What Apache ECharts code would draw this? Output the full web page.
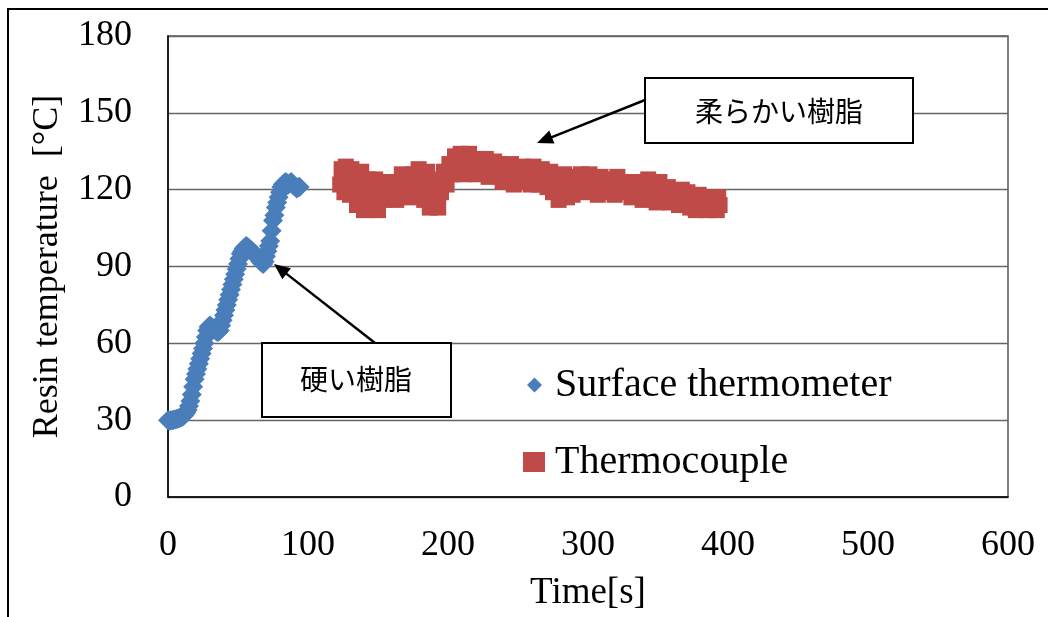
<!DOCTYPE html>
<html>
<head>
<meta charset="utf-8">
<script src="https://cdn.jsdelivr.net/npm/echarts@6/dist/echarts.min.js"></script>
<style>html,body{margin:0;padding:0;background:#fff;}#c{width:1048px;height:617px;}</style>
</head>
<body>
<div id="c"></div>
<script>
// ---- data ----
const xTicks = [0, 100, 200, 300, 400, 500, 600];
const yTicks = [0, 30, 60, 90, 120, 150, 180];
const seriesNames = ['Surface thermometer', 'Thermocouple'];

const blueTime = [0,1,2,3,4,5,6,7,8,9,10,11,12,13,14,15,16,17,18,19,20,21,22,23,24,25,26,27,28,29,30,31,32,33,34,35,36,37,38,39,40,41,42,43,44,45,46,47,48,49,50,51,52,53,54,55,56,57,58,59,60,61,62,63,64,65,66,67,68,69,70,71,72,73,74,75,76,77,78,79,80,81,82,83,84,85,86,87,88,89,90,91,92,93,94];
const blueTemp = [30,29.8,30,30,30.2,30.3,30.5,30.6,30.8,31,31.2,31.6,32.2,33,34,35.5,37.5,40,43,46,48,50,52,54,56,58,60,62.5,65,66.5,67,66.5,66,65.5,65,64.5,64.5,65,67,69,71,73,75,77,79,81,83,85,87,89,91,93,95,96,97,97.5,98,97.5,97,96.5,96,95.5,95,94,93.5,93,92,91.5,91,92,94,96,98,100,104,108,110,113,115,117,119,121,122,122.5,123,122.5,122,122.5,123,122,121.5,121,120.5,121,121];

const redTime = [123,124,125,126,127,128,130,131,133,135,136,138,140,141,143,145,146,148,150,151,153,155,157,159,161,163,165,167,169,171,173,175,177,179,181,183,185,187,189,191,193,195,197,199,201,203,205,207,209,211,213,215,217,219,221,223,225,227,229,231,233,235,237,239,241,243,245,247,249,251,253,255,257,259,261,263,265,267,269,271,273,275,277,279,281,283,285,287,289,291,293,295,297,299,301,303,305,307,309,311,313,315,317,319,321,323,325,327,329,331,333,335,337,339,341,343,345,347,349,351,353,355,357,359,361,363,365,367,369,371,373,375,377,379,381,383,385,387,389,391,392,393,394];
const redTemp = [122,128,125,119,129,123,118,128,122,114,120,127,112,118,124,113,120,124,112,118,123,116,122,117,123,116,121,126,118,124,117,126,120,128,122,116,127,113,119,124,113,119,127,122,130,126,133,128,134,126,131,134,128,132,126,131,128,132,125,129,131,126,130,123,128,125,130,122,127,124,129,123,127,122,129,125,122,128,124,121,127,119,125,116,121,126,117,123,118,125,120,126,119,123,126,120,124,118,125,121,119,124,122,118,125,120,123,119,123,117,121,118,123,116,121,124,117,120,115,123,118,116,121,115,119,117,114,120,116,119,113,117,112,118,114,116,112,117,113,116,112,117,114];

// ---- chart ----
const serif = "'Liberation Serif','Times New Roman',serif";
const cjk = "'Noto Sans CJK JP','Noto Sans CJK SC',sans-serif";
const blueData = blueTime.map((t, i) => [t, blueTemp[i]]);
const redData = redTime.map((t, i) => [t, redTemp[i]]);

function arrow(x1, y1, x2, y2) {
  const dx = x2 - x1, dy = y2 - y1, L = Math.hypot(dx, dy);
  const ux = dx / L, uy = dy / L;
  const hl = 16, hw = 7;
  const bx = x2 - ux * hl, by = y2 - uy * hl;
  return [
    { type: 'line', shape: { x1: x1, y1: y1, x2: bx + ux * 2, y2: by + uy * 2 }, style: { stroke: '#000', lineWidth: 2.5 }, z: 100 },
    { type: 'polygon', shape: { points: [[x2, y2], [bx - uy * hw, by + ux * hw], [bx + uy * hw, by - ux * hw]] }, style: { fill: '#000' }, z: 100 }
  ];
}

const chart = echarts.init(document.getElementById('c'), null, { renderer: 'canvas' });
chart.setOption({
  animation: false,
  backgroundColor: '#fff',
  grid: { left: 168, right: 40, top: 36, bottom: 120, show: true, borderColor: '#555', borderWidth: 1.5, backgroundColor: 'transparent' },
  xAxis: {
    type: 'value', min: xTicks[0], max: xTicks[xTicks.length - 1], interval: 100,
    name: 'Time[s]', nameLocation: 'middle', nameGap: 78,
    nameTextStyle: { fontFamily: serif, fontSize: 37, color: '#000' },
    axisLine: { show: true, lineStyle: { color: '#000', width: 1.5 } },
    axisTick: { show: false },
    splitLine: { show: false },
    axisLabel: { fontFamily: serif, fontSize: 36, color: '#000', margin: 31 }
  },
  yAxis: {
    type: 'value', min: yTicks[0], max: yTicks[yTicks.length - 1], interval: 30,
    name: 'Resin temperature  [°C]', nameLocation: 'middle', nameGap: 102,
    nameTextStyle: { fontFamily: serif, fontSize: 36, color: '#000' },
    axisLine: { show: true, lineStyle: { color: '#000', width: 1.5 } },
    axisTick: { show: false },
    splitLine: { show: true, lineStyle: { color: '#666', width: 1.3 } },
    axisLabel: { fontFamily: serif, fontSize: 36, color: '#000', margin: 36 }
  },
  legend: [
    {
      data: [seriesNames[0]], left: 527, top: 365, orient: 'vertical', padding: 0,
      itemWidth: 15, itemHeight: 15, itemGap: 0,
      icon: 'diamond',
      textStyle: { fontFamily: serif, fontSize: 40, color: '#000', padding: [0, 0, 0, 8] }
    },
    {
      data: [seriesNames[1]], left: 523, top: 442, orient: 'vertical', padding: 0,
      itemWidth: 22, itemHeight: 20, itemGap: 0,
      icon: 'rect',
      textStyle: { fontFamily: serif, fontSize: 40, color: '#000', padding: [0, 0, 0, 5] }
    }
  ],
  series: [
    {
      name: seriesNames[0], type: 'scatter', data: blueData,
      symbol: 'diamond', symbolSize: 20,
      itemStyle: { color: '#4a7ebb', opacity: 1 }
    },
    {
      name: seriesNames[1], type: 'scatter', data: redData,
      symbol: 'rect', symbolSize: 16,
      itemStyle: { color: '#be4b48', opacity: 1 }
    }
  ],
  graphic: [
    { type: 'rect', shape: { x: 8, y: 9, width: 1200, height: 800 }, style: { fill: 'none', stroke: '#000', lineWidth: 2 }, z: 100 },
    { type: 'rect', shape: { x: 645, y: 78, width: 268, height: 65 }, style: { fill: '#fff', stroke: '#000', lineWidth: 2 }, z: 100 },
    { type: 'text', x: 779, y: 111, style: { text: '柔らかい樹脂', font: '28px ' + cjk, fill: '#000', align: 'center', verticalAlign: 'middle' }, z: 101 },
    { type: 'rect', shape: { x: 262, y: 343, width: 189, height: 74 }, style: { fill: '#fff', stroke: '#000', lineWidth: 2 }, z: 100 },
    { type: 'text', x: 356, y: 379, style: { text: '硬い樹脂', font: '28px ' + cjk, fill: '#000', align: 'center', verticalAlign: 'middle' }, z: 101 }
  ].concat(arrow(645, 100, 537, 143)).concat(arrow(375, 343, 274, 264))
});
</script>
</body>
</html>
